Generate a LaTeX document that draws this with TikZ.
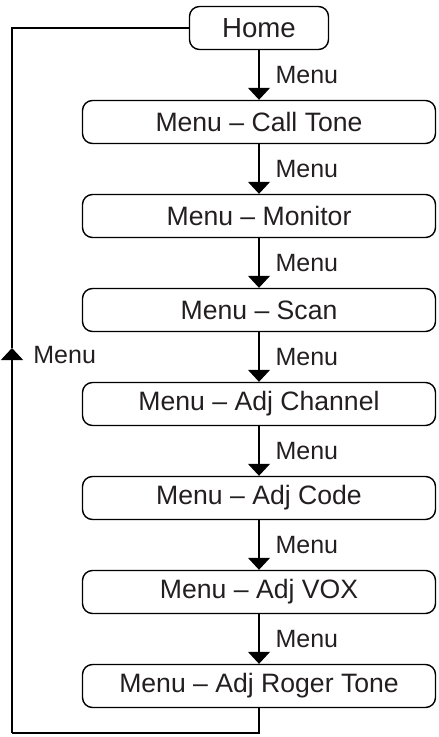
\documentclass[tikz,border=0pt]{standalone}
\usepackage{fontspec}
\setmainfont{Liberation Sans}
\usepackage{xcolor}
\usepackage{tikz}
\usetikzlibrary{arrows.meta,positioning}
\definecolor{fmInk}{HTML}{231F20}
\tikzset{
  fm diagram/.style={text=fmInk, line cap=butt, line join=miter},
  fm box/.style={draw=black, fill=white, line width=0.7pt,
    rounded corners=5pt, align=center, inner sep=0pt,
    minimum width=176.5pt, minimum height=21.5pt,
    font=\fontsize{13.3}{15}\selectfont},
  fm home/.style={fm box, minimum width=69.5pt,
    font=\fontsize{13.8}{16}\selectfont},
  fm line/.style={draw=black, line width=0.6pt},
  fm arrow/.style={fm line, -{Triangle[length=6pt,width=11pt]}},
  fm label/.style={inner sep=0pt, font=\fontsize{12.5}{14}\selectfont}
}
\begin{document}
\begin{tikzpicture}[fm diagram, node distance=24.8pt]
\useasboundingbox (0,0) rectangle (219pt,-368.5pt);
\node[fm home] (home) at (129.5pt,-14pt) {Home};
\foreach \name/\title [remember=\name as \prev (initially home)] in
  {tone/Call Tone,monitor/Monitor,scan/Scan,channel/Adj Channel,
   code/Adj Code,vox/Adj VOX,roger/Adj Roger Tone}{
  \node[fm box, below=of \prev] (\name) {Menu -- \title};
  \draw[fm arrow] (\prev) -- node[fm label, right=8pt] {Menu} (\name);
}
% way back to home
\coordinate (loop bottom) at (6pt,-366.5pt);
\coordinate (loop arrow) at (6pt,-174pt);
\draw[fm line] (roger) |- (loop bottom);
\draw[fm arrow] (loop bottom) -- (loop arrow);
\draw[fm line] (loop arrow) |- (home);
\node[fm label, anchor=west] (back) at ([xshift=10.5pt,yshift=-3.5pt]loop arrow) {Menu};
\end{tikzpicture}
\end{document}
